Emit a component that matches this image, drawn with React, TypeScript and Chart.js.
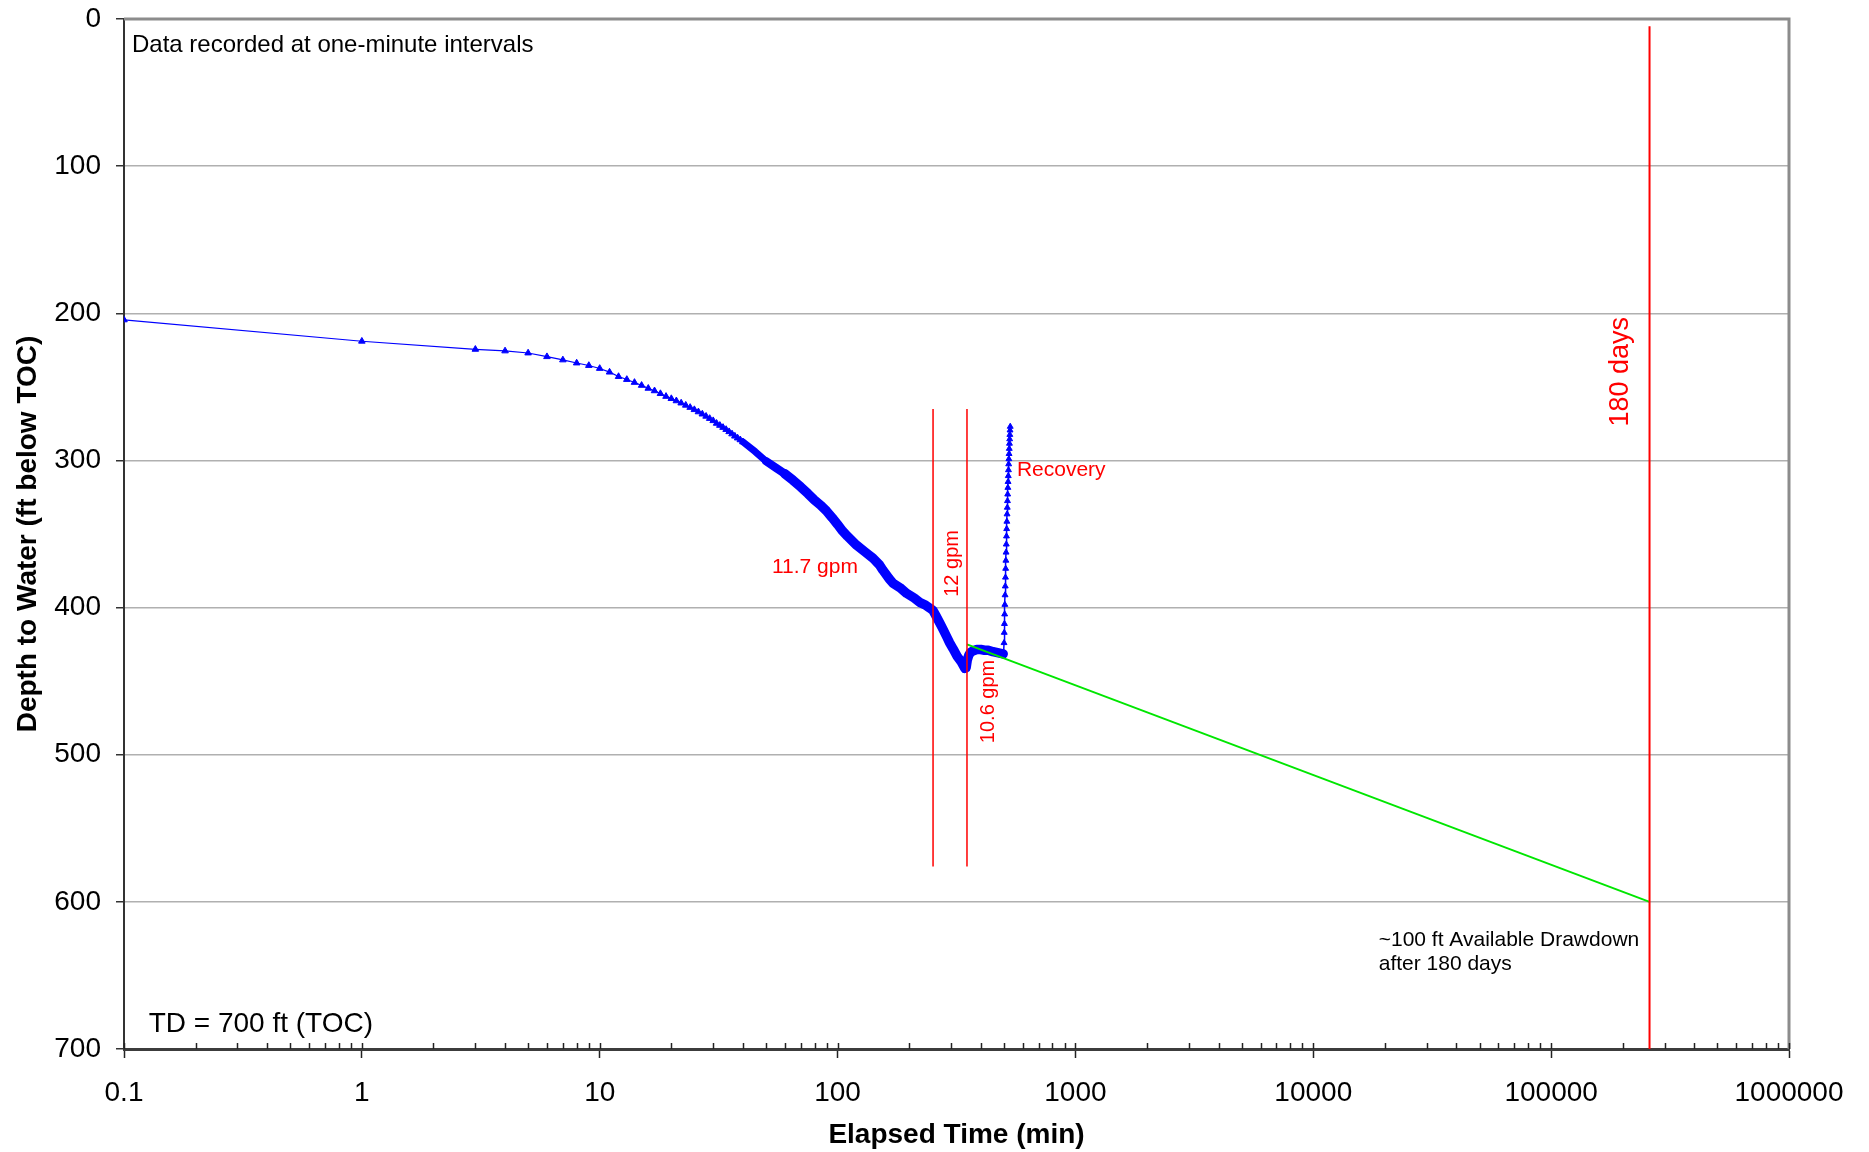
import React, { useEffect, useRef } from "react";
import { Chart, registerables } from "chart.js";

Chart.register(...registerables);

// ---- Data ----
const earlyTimes = [0.1, 1, 3, 4, 5, 6, 7, 8, 9, 10, 11, 12, 13, 14, 15, 16, 17, 18, 19, 20, 21, 22, 23, 24, 25, 26, 27, 28, 29, 30, 31, 32, 33, 34, 35, 36, 37, 38, 39, 40];
const earlyDepths = [204.5, 219, 224.5, 225.6, 227, 229.5, 231.7, 233.8, 235.5, 237.5, 240, 243, 245, 247, 249, 251, 252.7, 254.6, 256.5, 258, 259.5, 261, 262.5, 264, 265.5, 267, 268.5, 270, 271.5, 273, 274.8, 276.2, 277.6, 279, 280.5, 282, 283.5, 284.8, 286, 287.4];

const pumpTimes = [40, 45, 50, 55, 60, 65, 70, 75, 80, 85, 90, 95, 100, 105, 110, 120, 130, 141, 150, 155, 165, 171, 183, 195, 210, 222, 235, 245, 252, 260, 270, 278, 288, 296, 306, 319, 330, 343, 347, 351, 356, 362, 370, 385, 400, 415, 430, 450, 465, 480, 497];
const pumpDepths = [287.4, 294, 300.5, 305, 309, 313.5, 318, 322.5, 327, 330.5, 334.5, 339, 343.5, 348, 351.5, 357.5, 362, 366.5, 371, 374.5, 380.5, 383.5, 386.5, 390.3, 393.5, 396.5, 398.5, 400.5, 402, 406, 411, 415, 420, 424, 428, 433.4, 436.5, 441.3, 441, 435.6, 432.5, 430.5, 429.5, 428.5, 428.5, 429, 429, 430, 430.5, 431, 431.5];

const recoveryTimes = [497, 498, 499, 500, 501, 502, 503, 504, 505, 506, 507, 508, 509, 510, 511, 512, 513, 514, 515, 516, 517, 518, 519, 520, 521, 522, 523, 524, 525, 526, 527, 528, 529, 530, 531, 532];
const recoveryDepths = [431.5, 432, 432, 431, 424, 417, 411, 404.5, 398, 391.5, 385.5, 379.5, 373.5, 368, 362.5, 357, 351.5, 346.5, 341.5, 336.5, 332, 327.5, 323, 318.5, 314.5, 310.5, 306.5, 302.5, 299, 295.5, 292, 288.5, 285.5, 282.5, 279.5, 277];

const rateChangeTimes = [252, 350];
const rateLineDepths = [265, 576];
const days180Time = 259200;
const days180Depths = [5, 700];
const projectionTimes = [350, 259200];
const projectionDepths = [425, 600];

const xMajorTicks = [0.1, 1, 10, 100, 1000, 10000, 100000, 1000000];
const xMinorMultipliers = [2, 3, 4, 5, 6, 7, 8, 9];
const yTickStep = 100;

const FONT = "'Liberation Sans', Arial, Helvetica, sans-serif";

const pts = (xs: number[], ys: number[]) => xs.map((x, i) => ({ x, y: ys[i] }));

export default function App() {
  const ref = useRef<HTMLCanvasElement | null>(null);

  useEffect(() => {
    document.body.style.margin = "0";
    const canvas = ref.current;
    if (!canvas) return;

    const allXTicks: number[] = [];
    xMajorTicks.forEach((m, i) => {
      allXTicks.push(m);
      if (i < xMajorTicks.length - 1) xMinorMultipliers.forEach((k) => allXTicks.push(Math.round(m * k * 1000) / 1000));
    });

    const annotations = {
      id: "annotations",
      afterDatasetsDraw(chart: any) {
        const { ctx, scales } = chart;
        const x = scales.x;
        const y = scales.y;
        const px = (t: number) => x.getPixelForValue(t);
        const py = (d: number) => y.getPixelForValue(d);
        const text = (s: string, t: number, d: number, size: number, color: string, align: CanvasTextAlign, rot = 0) => {
          ctx.save();
          ctx.font = `${size}px ${FONT}`;
          ctx.fillStyle = color;
          ctx.textAlign = align;
          ctx.textBaseline = "middle";
          ctx.translate(px(t), py(d));
          if (rot) ctx.rotate(rot);
          ctx.fillText(s, 0, 0);
          ctx.restore();
        };
        text("Data recorded at one-minute intervals", 0.108, 17.7, 24, "#000", "left");
        text("TD = 700 ft (TOC)", 0.127, 683, 28, "#000", "left");
        text("11.7 gpm", 80.3, 372.5, 21, "#ff0000", "center");
        text("12 gpm", 303.8, 370, 20, "#ff0000", "center", -Math.PI / 2);
        text("10.6 gpm", 432.5, 463.8, 20, "#ff0000", "center", -Math.PI / 2);
        text("Recovery", 567.5, 306.5, 21, "#ff0000", "left");
        text("180 days", 196100, 239.7, 27, "#ff0000", "center", -Math.PI / 2);
        text("~100 ft Available Drawdown", 18840, 626.3, 21, "#000", "left");
        text("after 180 days", 18840, 642.5, 21, "#000", "left");
      },
      afterDraw(chart: any) {
        const { ctx, chartArea, scales } = chart;
        ctx.save();
        // top and right frame
        ctx.strokeStyle = "#8c8c8c";
        ctx.lineWidth = 3;
        ctx.beginPath();
        ctx.moveTo(chartArea.left, chartArea.top);
        ctx.lineTo(chartArea.right, chartArea.top);
        ctx.lineTo(chartArea.right, chartArea.bottom);
        ctx.stroke();
        // inward x ticks
        ctx.strokeStyle = "#222";
        ctx.lineWidth = 1.5;
        const x = scales.x;
        x.ticks.forEach((tk: any) => {
          const xp = Math.round(x.getPixelForValue(tk.value)) + 0.5;
          ctx.beginPath();
          ctx.moveTo(xp, chartArea.bottom);
          ctx.lineTo(xp, chartArea.bottom - 6);
          ctx.stroke();
        });
        ctx.restore();
      },
    };

    const chart = new Chart(canvas, {
      type: "scatter",
      data: {
        datasets: [
          {
            data: pts([rateChangeTimes[0], rateChangeTimes[0]], rateLineDepths),
            showLine: true, borderColor: "#ff0000", borderWidth: 1.5, pointRadius: 0,
          },
          {
            data: pts([rateChangeTimes[1], rateChangeTimes[1]], rateLineDepths),
            showLine: true, borderColor: "#ff0000", borderWidth: 1.5, pointRadius: 0,
          },
          {
            data: pts([days180Time, days180Time], days180Depths),
            showLine: true, borderColor: "#ff0000", borderWidth: 2, pointRadius: 0,
          },
          {
            data: pts(projectionTimes, projectionDepths),
            showLine: true, borderColor: "rgb(0,230,0)", borderWidth: 2, pointRadius: 0,
          },
          {
            data: pts(recoveryTimes, recoveryDepths),
            showLine: true, borderColor: "#0000ff", borderWidth: 1.5,
            pointStyle: "triangle", pointRadius: 3.4, pointBackgroundColor: "#0000ff", pointBorderColor: "#0000ff", pointBorderWidth: 1,
          },
          {
            data: pts(pumpTimes, pumpDepths),
            showLine: true, borderColor: "#0000ff", borderWidth: 9.5, pointRadius: 0,
            borderCapStyle: "round", borderJoinStyle: "round",
            segment: {
              borderWidth: (c: any) => (c.p0.parsed.x < 50 ? 7 : c.p0.parsed.x < 60 ? 8.3 : 9.5),
            },
          },
          {
            data: pts(earlyTimes, earlyDepths),
            showLine: true, borderColor: "#0000ff", borderWidth: 1.2,
            pointStyle: "triangle", pointRadius: 3.8, pointBackgroundColor: "#0000ff", pointBorderColor: "#0000ff", pointBorderWidth: 1,
          },
        ],
      },
      options: {
        responsive: false,
        animation: false,
        devicePixelRatio: 1,
        layout: { padding: { left: 0, top: 19, right: 80, bottom: 0 } },
        plugins: { legend: { display: false }, tooltip: { enabled: false } },
        scales: {
          x: {
            type: "logarithmic",
            position: "bottom",
            min: 0.1,
            max: 1000000,
            afterBuildTicks: (s: any) => {
              s.ticks = allXTicks.map((v) => ({ value: v, major: xMajorTicks.includes(v) }));
            },
            afterFit: (s: any) => {
              s.height = 103;
              s.paddingLeft = 0;
              s.paddingRight = 0;
            },
            ticks: {
              autoSkip: false,
              maxRotation: 0,
              minRotation: 0,
              padding: 18,
              color: "#000",
              font: { family: FONT, size: 28 },
              callback: (v: any) => (xMajorTicks.includes(Number(v)) ? String(v) : ""),
            },
            grid: {
              drawOnChartArea: false,
              drawTicks: true,
              tickLength: 9,
              tickWidth: 1.5,
              tickColor: (c: any) => (c.tick && xMajorTicks.includes(c.tick.value) ? "#222" : "rgba(0,0,0,0)"),
            },
            border: { display: true, color: "#3c3c3c", width: 3 },
            title: {
              display: true,
              text: "Elapsed Time (min)",
              color: "#000",
              font: { family: FONT, size: 28, weight: "bold" },
              padding: { top: 0, bottom: 0 },
            },
          },
          y: {
            type: "linear",
            reverse: true,
            min: 0,
            max: 700,
            afterFit: (s: any) => {
              s.width = 124;
              s.paddingTop = 0;
              s.paddingBottom = 0;
            },
            ticks: {
              stepSize: yTickStep,
              padding: 15,
              color: "#000",
              font: { family: FONT, size: 28 },
            },
            grid: {
              color: (c: any) => (c.tick && (c.tick.value === 0 || c.tick.value === 700) ? "rgba(0,0,0,0)" : "#b0b0b0"),
              lineWidth: 1.5,
              tickLength: 8,
              tickColor: "#333",
              tickWidth: 1.5,
            },
            border: { display: true, color: "#333", width: 2 },
            title: {
              display: true,
              text: "Depth to Water (ft below TOC)",
              color: "#000",
              font: { family: FONT, size: 28, weight: "bold" },
              padding: { top: 11, bottom: 0 },
            },
          },
        },
      },
      plugins: [annotations],
    } as any);

    return () => chart.destroy();
  }, []);

  return <canvas ref={ref} width={1869} height={1152} style={{ display: "block" }} />;
}
